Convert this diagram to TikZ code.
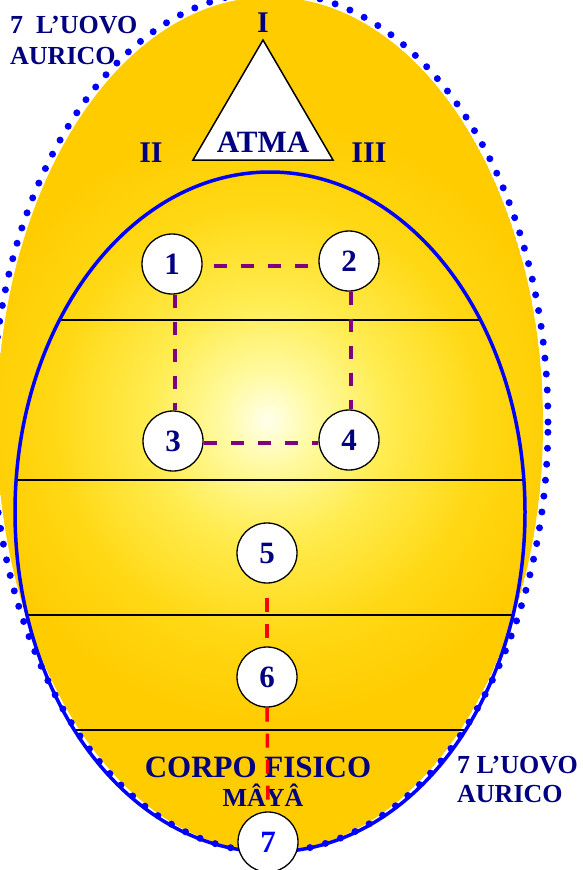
\documentclass[tikz,border=0pt]{standalone}
\usepackage{fontspec}
\setmainfont{Liberation Serif}
\definecolor{navy}{RGB}{0,0,128}
\definecolor{pblue}{RGB}{0,0,255}
\definecolor{gold}{RGB}{255,204,0}
\definecolor{c0}{RGB}{255,255,235}
\definecolor{c1}{RGB}{255,250,160}
\definecolor{c2}{RGB}{255,236,80}
\definecolor{c3}{RGB}{255,216,20}
\definecolor{purp}{RGB}{128,0,128}
\definecolor{redd}{RGB}{255,0,0}
\pgfdeclareradialshading{eggshade}{\pgfpointorigin}{color(0bp)=(c0); color(4bp)=(c1); color(10bp)=(c2); color(18bp)=(c3); color(25bp)=(gold); color(50bp)=(gold)}
\begin{document}
\begin{tikzpicture}[x=1pt,y=-1pt,
  numc/.style={circle, draw=black, line width=1.3pt, fill=white, minimum size=60pt, inner sep=0pt, font=\bfseries\fontsize{31}{31}\selectfont, text=navy},
  lbl/.style={font=\bfseries\fontsize{26}{29}\selectfont, text=navy, inner sep=0pt},
  roman/.style={font=\bfseries\fontsize{30}{30}\selectfont, text=navy, inner sep=0pt, anchor=base},
  pdash/.style={draw=purp, line width=3.5pt, dash pattern=on 13pt off 14pt},
  rdash/.style={draw=redd, line width=3.5pt, dash pattern=on 14pt off 12pt},
  level/.style={draw=black, line width=1.5pt}]
\useasboundingbox (0,0) rectangle (583,870);
% outer egg fill
\begin{scope}
  \clip (270,424) ellipse [x radius=273pt, y radius=427pt];
  \fill[gold] (270,424) ellipse [x radius=273pt, y radius=427pt];
  \shade[shading=eggshade] (268,420) circle [radius=300pt];
\end{scope}
% level lines inside inner ellipse
\begin{scope}
  \clip (270,512) ellipse [x radius=255pt, y radius=340pt];
  \draw[level] (0,320) -- (583,320);
  \draw[level] (0,480) -- (583,480);
  \draw[level] (0,615) -- (583,615);
  \draw[level] (0,730) -- (583,730);
\end{scope}
% inner ellipse
\draw[pblue, line width=3.5pt] (270,512) ellipse [x radius=255pt, y radius=340pt];
% dotted outer border
\draw[pblue, line width=7pt, line cap=round, dash pattern=on 0pt off 16pt] (270,422) ellipse [x radius=278pt, y radius=430pt];
% triangle
\draw[fill=white, line width=1.5pt, line join=miter] (263,40) -- (333,160) -- (193,160) -- cycle;
\node[roman, font=\bfseries\fontsize{31}{31}\selectfont] (atma) at (263,152) {ATMA};
\node[roman] (r1) at (263,32) {I};
\node[roman] (r2) at (151,162) {II};
\node[roman] (r3) at (369,162) {III};
% labels
\node[lbl, anchor=base west] (uovo1) at (10,33) {7\ \ L’UOVO};
\node[lbl, anchor=base west] (aur1) at (10,64) {AURICO};
\node[lbl, anchor=base west] (uovo2) at (457,773) {7 L’UOVO};
\node[lbl, anchor=base west] (aur2) at (457,802) {AURICO};
\node[font=\bfseries\fontsize{31}{31}\selectfont, text=navy, inner sep=0pt, anchor=base] (corpo) at (258,777) {CORPO FISICO};
\node[font=\bfseries\fontsize{26}{26}\selectfont, text=navy, inner sep=0pt, anchor=base] (maya) at (263,806) {MÂYÂ};
% circles
\node[numc] (n1) at (172,264) {1};
\node[numc] (n2) at (349,261) {2};
\node[numc] (n3) at (173,441) {3};
\node[numc] (n4) at (349,440) {4};
\node[numc] (n5) at (267,553) {5};
\node[numc] (n6) at (267,677) {6};
\node[numc, text=pblue] (n7) at (268,842) {7};
% connectors
\draw[pdash] ([xshift=11pt]n1.east |- 0,266) -- ([xshift=-5pt]n2.west |- 0,266);
\draw[pdash] ([xshift=3pt]n1.south) -- ([xshift=2pt]n3.north);
\draw[pdash] ([xshift=2pt]n2.south) -- ([xshift=2pt]n4.north);
\draw[pdash] (n3.east |- 0,443) -- (n4.west |- 0,443);
\draw[rdash] ([yshift=-14pt]n5.south) -- (n6.north);
\draw[rdash] (n6.south) -- (n7.north);
\end{tikzpicture}
\end{document}
